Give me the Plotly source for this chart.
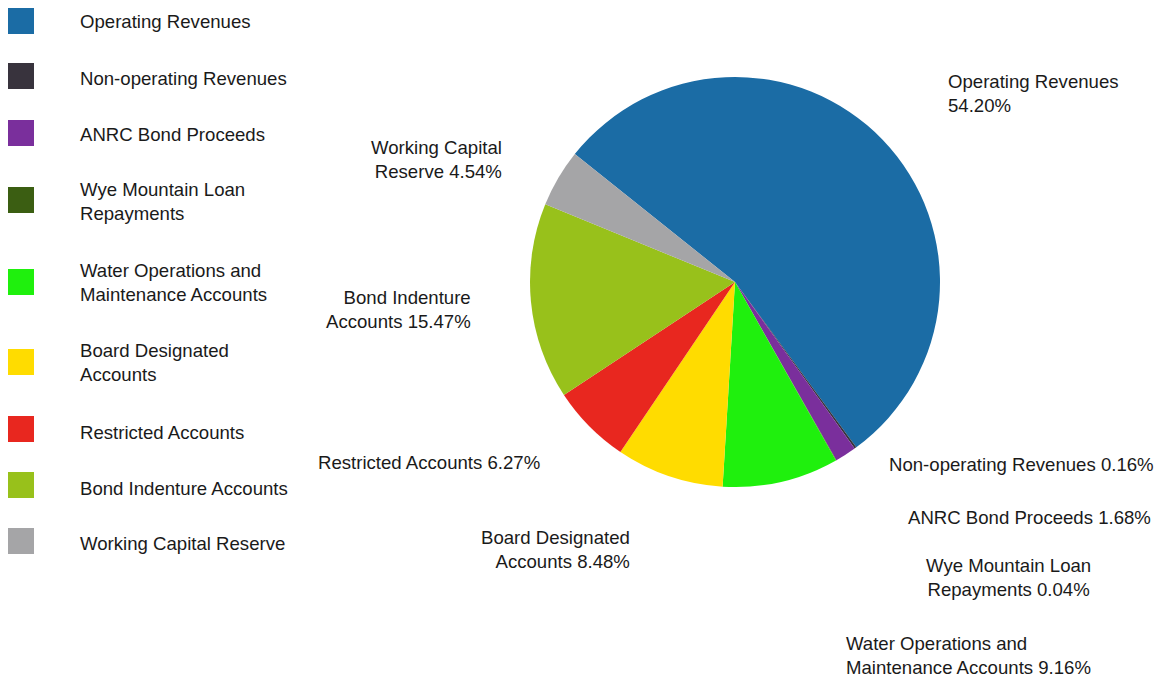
import plotly.graph_objects as go

# ---- data ----
categories = [
    "Operating Revenues",
    "Non-operating Revenues",
    "ANRC Bond Proceeds",
    "Wye Mountain Loan Repayments",
    "Water Operations and Maintenance Accounts",
    "Board Designated Accounts",
    "Restricted Accounts",
    "Bond Indenture Accounts",
    "Working Capital Reserve",
]
values = [54.20, 0.16, 1.68, 0.04, 9.16, 8.48, 6.27, 15.47, 4.54]

legend_labels = [
    "Operating Revenues",
    "Non-operating Revenues",
    "ANRC Bond Proceeds",
    "Wye Mountain Loan<br>Repayments",
    "Water Operations and<br>Maintenance Accounts",
    "Board Designated<br>Accounts",
    "Restricted Accounts",
    "Bond Indenture Accounts",
    "Working Capital Reserve",
]
slice_labels = [
    "Operating Revenues<br>{v:.2f}%",
    "Non-operating Revenues {v:.2f}%",
    "ANRC Bond Proceeds {v:.2f}%",
    "Wye Mountain Loan<br>Repayments {v:.2f}%",
    "Water Operations and<br>Maintenance Accounts {v:.2f}%",
    "Board Designated<br>Accounts {v:.2f}%",
    "Restricted Accounts {v:.2f}%",
    "Bond Indenture<br>Accounts {v:.2f}%",
    "Working Capital<br>Reserve {v:.2f}%",
]

# ---- styles ----
colors = ["#1b6ca5", "#38333d", "#7a2f9c", "#3b5e12", "#1ff00d",
          "#ffdc00", "#e8271f", "#98c11b", "#a5a5a7"]
W, H = 1167, 692
FONT = "Liberation Sans, Arial, sans-serif"
FS = 18.6
TXT = "#1a1a1a"

# label placement (pixel x, pixel y of block centre, xanchor, align)
label_pos = [
    (946, 93, "left", "left"),
    (1156, 464, "right", "right"),
    (1153, 517, "right", "right"),
    (1008, 577.5, "center", "center"),
    (844, 655, "left", "left"),
    (632, 549, "right", "right"),
    (542, 462, "right", "right"),
    (473, 309, "right", "right"),
    (504, 159.5, "right", "right"),
]
# legend placement (square centre y, text centre y)
legend_y = [(21, 22), (76, 78), (133, 134), (200, 201.5), (282, 282),
            (362, 363), (429, 432), (485, 488), (541, 543)]

cx, cy, r = 735, 282, 205

fig = go.Figure(go.Pie(
    labels=categories,
    values=values,
    marker=dict(colors=colors, line=dict(width=0)),
    sort=False,
    direction="clockwise",
    rotation=-51.4,
    textinfo="none",
    hoverinfo="label+percent",
    showlegend=False,
    domain=dict(x=[(cx - r) / W, (cx + r) / W],
                y=[(H - cy - r) / H, (H - cy + r) / H]),
))

annotations = []
shapes = []
for lab, v, (px, py, xa, al) in zip(slice_labels, values, label_pos):
    annotations.append(dict(
        x=px / W, y=1 - py / H, xref="paper", yref="paper",
        xanchor=xa, yanchor="middle", align=al, showarrow=False,
        text=lab.format(v=v), font=dict(family=FONT, size=FS, color=TXT)))

for lab, col, (sy, ty) in zip(legend_labels, colors, legend_y):
    shapes.append(dict(
        type="rect", xref="paper", yref="paper",
        x0=8 / W, x1=34 / W, y0=1 - (sy - 13) / H, y1=1 - (sy + 13) / H,
        fillcolor=col, line=dict(width=0)))
    annotations.append(dict(
        x=78 / W, y=1 - ty / H, xref="paper", yref="paper",
        xanchor="left", yanchor="middle", align="left", showarrow=False,
        text=lab, font=dict(family=FONT, size=FS, color=TXT)))

fig.update_layout(
    width=W, height=H,
    margin=dict(l=0, r=0, t=0, b=0),
    paper_bgcolor="white", plot_bgcolor="white",
    annotations=annotations, shapes=shapes,
)

fig.write_html("out.html")
